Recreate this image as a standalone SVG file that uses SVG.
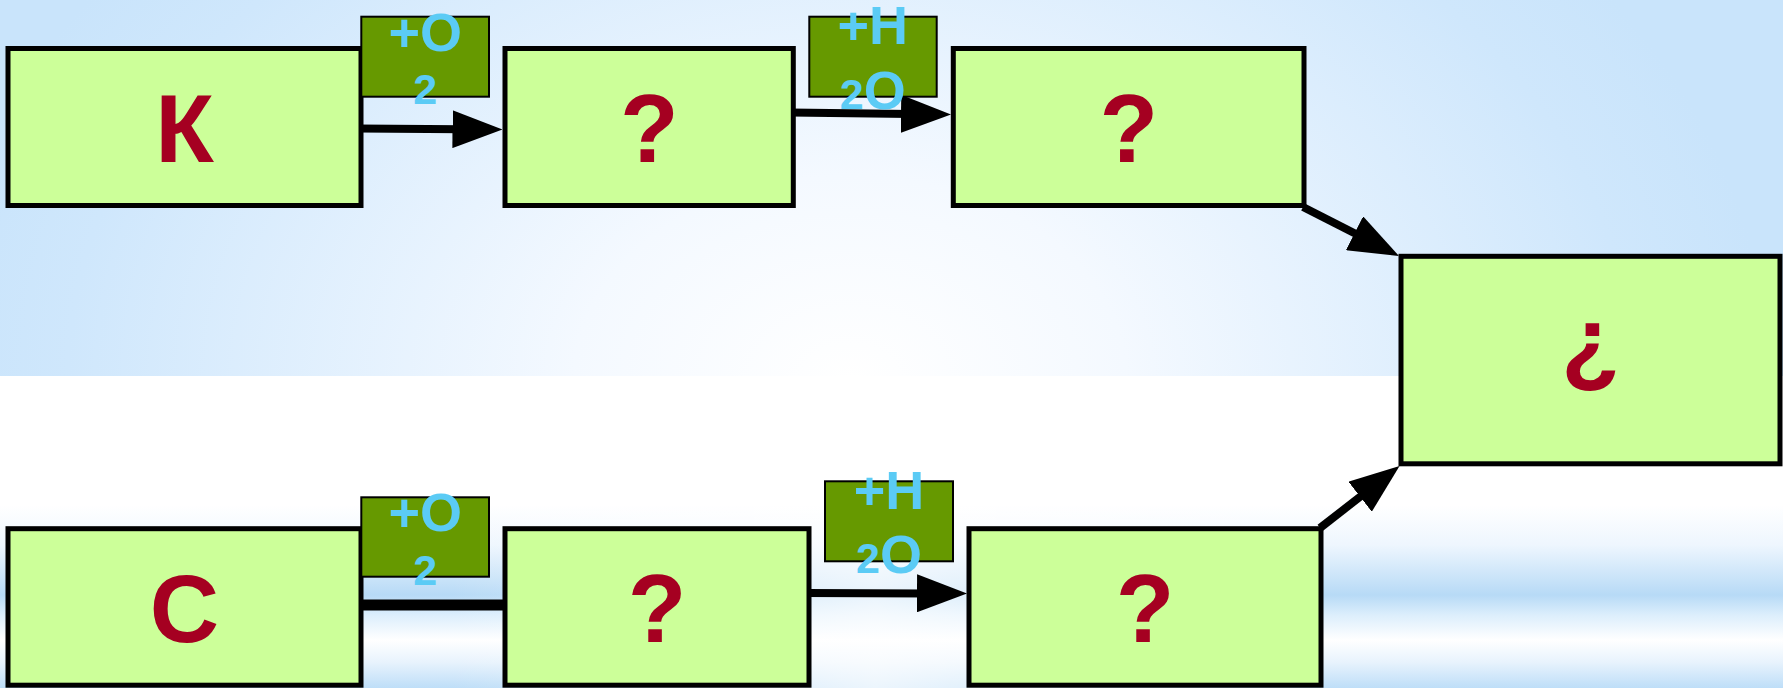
<svg xmlns="http://www.w3.org/2000/svg" width="1783" height="688" viewBox="0 0 1783 688">
  <defs>
    <!-- sky-like backdrop for the upper band -->
    <radialGradient id="sky" gradientUnits="userSpaceOnUse" cx="0" cy="0" r="1" gradientTransform="translate(850 380) scale(920 680)">
      <stop offset="0" stop-color="#ffffff"/>
      <stop offset="0.3" stop-color="#f4f9ff"/>
      <stop offset="0.85" stop-color="#cfe7fc"/>
      <stop offset="1" stop-color="#c9e4fb"/>
    </radialGradient>
    <!-- striped light-blue band along the bottom -->
    <linearGradient id="band" gradientUnits="userSpaceOnUse" x1="0" y1="505" x2="0" y2="688">
      <stop offset="0" stop-color="#ffffff"/>
      <stop offset="0.219" stop-color="#eef6fe"/>
      <stop offset="0.492" stop-color="#b7daf6"/>
      <stop offset="0.601" stop-color="#dceefc"/>
      <stop offset="0.738" stop-color="#ffffff"/>
      <stop offset="0.858" stop-color="#e8f3fd"/>
      <stop offset="1" stop-color="#bedef8"/>
    </linearGradient>
    <linearGradient id="bandFade" gradientUnits="userSpaceOnUse" x1="450" y1="0" x2="1300" y2="0">
      <stop offset="0" stop-color="#ffffff" stop-opacity="0"/>
      <stop offset="0.5" stop-color="#ffffff" stop-opacity="0.7"/>
      <stop offset="1" stop-color="#ffffff" stop-opacity="0"/>
    </linearGradient>
    <marker id="head" markerUnits="userSpaceOnUse" viewBox="0 0 50 38" markerWidth="50" markerHeight="38" refX="10" refY="19" orient="auto">
      <path d="M0,0 L50,19 L0,38 z" fill="#000"/>
    </marker>
    <style>
      .node rect { fill: #ccff99; stroke: #000; stroke-width: 5; }
      .node text { font-family: "Liberation Sans", Arial, sans-serif; font-weight: bold; font-size: 96px; fill: #a50021; text-anchor: middle; }
      .tag rect { fill: #669900; stroke: #000; stroke-width: 2; }
      .tag text { font-family: "Liberation Sans", Arial, sans-serif; font-weight: bold; font-size: 54px; fill: #5bcbf5; text-anchor: middle; }
      .tag .sub { font-size: 43px; }
      .link { fill: none; stroke: #000; stroke-width: 8; marker-end: url(#head); }
      .bar { fill: none; stroke: #000; stroke-width: 11; }
    </style>
  </defs>

  <!-- background -->
  <rect x="0" y="0" width="1783" height="688" fill="#ffffff"/>
  <rect x="0" y="0" width="1783" height="376" fill="url(#sky)"/>
  <rect x="0" y="505" width="1783" height="183" fill="url(#band)"/>
  <rect x="0" y="505" width="1783" height="183" fill="url(#bandFade)"/>

  <!-- connectors -->
  <g id="connectors">
    <path class="link" d="M358,128.5 L462.5,129.2"/>
    <path class="link" d="M790,112.4 L911,114"/>
    <path class="link" d="M1303,207 L1363.4,237.8"/>
    <path class="bar" d="M358,605 L505,605"/>
    <path class="link" d="M806,593 L927,593.4"/>
    <path class="link" d="M1320,528 L1368,490.6"/>
  </g>

  <!-- upper chain -->
  <g id="node-k" class="node">
    <rect x="8" y="48.5" width="353" height="157"/>
    <text x="184.5" y="162.3">К</text>
  </g>
  <g id="node-top-2" class="node">
    <rect x="505" y="48.5" width="288.3" height="157"/>
    <text x="649.2" y="162.3">?</text>
  </g>
  <g id="node-top-3" class="node">
    <rect x="953.3" y="48.5" width="350.7" height="157"/>
    <text x="1128.7" y="162.3">?</text>
  </g>

  <!-- product -->
  <g id="node-result" class="node">
    <rect x="1401" y="256.3" width="379" height="207.5"/>
    <text x="1590.5" y="375">¿</text>
  </g>

  <!-- lower chain -->
  <g id="node-c" class="node">
    <rect x="8" y="528.7" width="353" height="156.5"/>
    <text x="184.5" y="642">С</text>
  </g>
  <g id="node-bottom-2" class="node">
    <rect x="505" y="528.7" width="304" height="156.5"/>
    <text x="657" y="642">?</text>
  </g>
  <g id="node-bottom-3" class="node">
    <rect x="969" y="528.7" width="352" height="156.5"/>
    <text x="1145" y="642">?</text>
  </g>

  <!-- reagent tags -->
  <g id="tag-o2-top" class="tag">
    <rect x="361.3" y="16.7" width="127.7" height="80"/>
    <text x="425.2" y="51">+O</text>
    <text x="425.2" y="104.3" class="sub">2</text>
  </g>
  <g id="tag-h2o-top" class="tag">
    <rect x="809.3" y="16.7" width="127.4" height="80"/>
    <text x="872.8" y="44.3">+H</text>
    <text x="872.8" y="108.5"><tspan class="sub">2</tspan>O</text>
  </g>
  <g id="tag-o2-bottom" class="tag">
    <rect x="361.3" y="497.3" width="127.7" height="79.4"/>
    <text x="425.2" y="531.3">+O</text>
    <text x="425.2" y="585" class="sub">2</text>
  </g>
  <g id="tag-h2o-bottom" class="tag">
    <rect x="825" y="481.3" width="128" height="80"/>
    <text x="889" y="509.3">+H</text>
    <text x="889" y="573"><tspan class="sub">2</tspan>O</text>
  </g>
</svg>
